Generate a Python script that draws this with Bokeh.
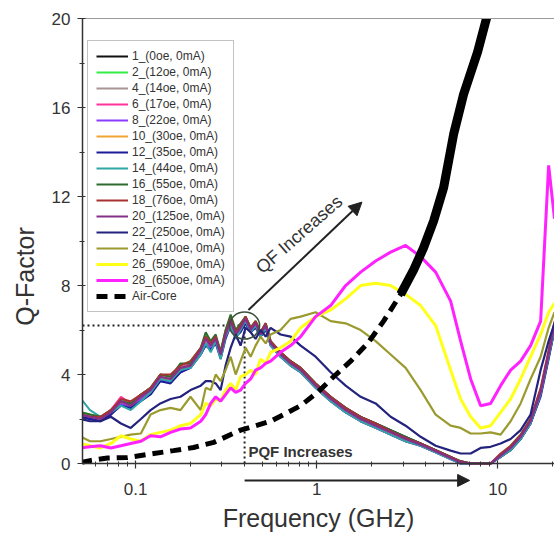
from bokeh.plotting import figure
from bokeh.models import (Range1d, FixedTicker, SingleIntervalTicker, LogAxis, Legend,
                          LegendItem, Label, Arrow, NormalHead)
from bokeh.embed import file_html
from bokeh.resources import INLINE

# ---------------- data ----------------
FREQ = [0.050, 0.056, 0.064, 0.073, 0.083, 0.094, 0.107, 0.121, 0.137, 0.156, 0.177, 0.201,
        0.229, 0.244, 0.260, 0.277, 0.295, 0.314, 0.335, 0.357, 0.380, 0.405, 0.432, 0.460,
        0.490, 0.523, 0.557, 0.632, 0.718, 0.816, 0.987, 1.195, 1.446, 1.750, 2.118, 2.563,
        3.101, 3.753, 4.543, 5.497, 6.244, 7.090, 8.051, 9.141, 10.38, 11.79, 13.39, 15.20,
        17.27, 19.12, 20.6]

Q_1 = [2.1, 2.0, 2.0, 2.2, 2.7, 2.5, 2.9, 3.3, 3.8, 3.7, 4.2, 4.5, 5.0, 5.5, 5.2, 5.7, 5.0, 5.9, 6.3, 5.9,
       6.0, 6.4, 6.1, 6.2, 5.9, 6.1, 5.3, 4.8, 4.4, 4.1, 3.4, 2.8, 2.3, 1.9, 1.6, 1.3, 1.0, 0.8, 0.5, 0.2,
       0.0, 0.0, 0.0, 0.0, 0.3, 0.6, 1.1, 1.8, 3.1, 4.8, 6.0]
Q_2 = [2.3, 2.2, 2.1, 2.4, 2.9, 2.7, 3.1, 3.4, 4.0, 3.9, 4.4, 4.6, 5.2, 5.8, 5.4, 5.7, 5.1, 6.0, 6.6, 6.0,
       6.2, 6.6, 6.1, 6.4, 5.9, 6.3, 5.5, 5.0, 4.6, 4.3, 3.6, 3.0, 2.5, 2.1, 1.8, 1.5, 1.2, 0.9, 0.6, 0.3,
       0.1, 0.0, 0.0, 0.0, 0.4, 0.8, 1.3, 2.0, 3.3, 5.0, 6.3]
Q_4 = [2.2, 2.1, 2.1, 2.3, 2.7, 2.6, 3.0, 3.2, 3.8, 3.8, 4.2, 4.4, 5.0, 5.5, 5.3, 5.5, 4.9, 5.7, 6.3, 5.8,
       6.1, 6.4, 6.0, 6.2, 5.8, 6.2, 5.4, 4.9, 4.5, 4.2, 3.5, 2.9, 2.4, 2.0, 1.7, 1.4, 1.1, 0.85, 0.55, 0.25,
       0.05, 0.0, 0.0, 0.0, 0.35, 0.7, 1.2, 1.9, 3.2, 4.9, 6.2]
Q_6 = [2.2, 2.1, 2.0, 2.4, 3.0, 2.7, 3.1, 3.3, 3.9, 3.8, 4.3, 4.5, 5.1, 5.6, 5.3, 5.6, 4.9, 5.8, 6.5, 5.9,
       6.1, 6.6, 6.0, 6.3, 5.8, 6.2, 5.4, 4.9, 4.5, 4.2, 3.5, 2.9, 2.4, 2.0, 1.7, 1.4, 1.1, 0.85, 0.55, 0.25,
       0.05, 0.0, 0.0, 0.0, 0.35, 0.7, 1.2, 1.9, 3.2, 4.9, 6.2]
Q_8 = [2.1, 2.0, 1.9, 2.2, 2.7, 2.5, 2.9, 3.2, 3.7, 3.7, 4.1, 4.3, 4.9, 5.4, 5.2, 5.5, 4.8, 5.7, 6.2, 5.7,
       6.0, 6.3, 5.9, 6.2, 5.7, 6.1, 5.3, 4.8, 4.4, 4.1, 3.4, 2.8, 2.3, 1.9, 1.6, 1.3, 1.0, 0.8, 0.5, 0.2,
       0.0, 0.0, 0.0, 0.0, 0.3, 0.65, 1.1, 1.8, 3.1, 4.8, 6.1]
Q_10 = [2.2, 2.1, 2.0, 2.3, 2.8, 2.6, 3.0, 3.3, 3.9, 3.8, 4.3, 4.4, 5.1, 5.6, 5.3, 5.6, 4.9, 5.8, 6.4, 5.8,
        6.1, 6.5, 6.0, 6.3, 5.8, 6.2, 5.4, 4.9, 4.5, 4.2, 3.5, 2.9, 2.4, 2.0, 1.7, 1.4, 1.1, 0.85, 0.55, 0.25,
        0.05, 0.0, 0.0, 0.0, 0.35, 0.7, 1.2, 1.9, 3.2, 4.9, 6.2]
Q_12 = [2.1, 2.0, 1.9, 2.2, 2.6, 2.5, 2.8, 3.1, 3.7, 3.6, 4.1, 4.3, 4.9, 5.3, 5.1, 5.4, 4.7, 5.6, 6.2, 5.7,
        5.9, 6.3, 5.9, 6.1, 5.7, 6.0, 5.4, 5.0, 4.6, 4.3, 3.6, 3.0, 2.5, 2.1, 1.8, 1.5, 1.2, 0.9, 0.6, 0.3,
        0.1, 0.0, 0.0, 0.0, 0.3, 0.6, 1.1, 1.8, 3.0, 4.7, 6.0]
Q_14 = [2.9, 2.4, 2.1, 2.3, 2.6, 2.4, 2.8, 3.2, 3.8, 3.7, 4.2, 4.3, 4.9, 5.4, 5.0, 5.5, 4.7, 5.7, 6.2, 5.6,
        6.0, 6.4, 5.9, 6.2, 5.7, 6.1, 5.3, 4.8, 4.4, 4.1, 3.4, 2.8, 2.3, 1.9, 1.6, 1.3, 1.0, 0.8, 0.5, 0.2,
        0.0, 0.0, 0.0, 0.0, 0.3, 0.6, 1.1, 1.8, 3.1, 4.8, 6.0]
Q_16 = [2.3, 2.2, 2.1, 2.4, 2.8, 2.7, 3.1, 3.4, 4.0, 3.9, 4.5, 4.5, 5.2, 5.9, 5.5, 5.8, 5.0, 6.0, 6.7, 6.0,
        6.3, 6.6, 6.1, 6.4, 5.9, 6.3, 5.5, 5.0, 4.6, 4.3, 3.6, 3.0, 2.5, 2.1, 1.8, 1.5, 1.2, 0.9, 0.6, 0.3,
        0.1, 0.0, 0.0, 0.0, 0.4, 0.75, 1.25, 2.0, 3.3, 5.0, 6.3]
Q_18 = [2.2, 2.1, 2.1, 2.4, 2.9, 2.8, 3.1, 3.4, 4.0, 4.0, 4.4, 4.6, 5.2, 5.7, 5.4, 5.7, 5.0, 5.9, 6.5, 5.9,
        6.2, 6.6, 6.1, 6.4, 5.9, 6.3, 5.5, 5.0, 4.6, 4.3, 3.6, 3.0, 2.5, 2.1, 1.8, 1.45, 1.15, 0.9, 0.6, 0.3,
        0.1, 0.0, 0.0, 0.0, 0.45, 0.8, 1.3, 2.0, 3.4, 5.1, 6.4]
Q_20 = [2.2, 2.1, 2.0, 2.3, 2.8, 2.6, 3.0, 3.3, 3.9, 3.8, 4.3, 4.4, 5.1, 5.6, 5.3, 5.6, 4.9, 5.8, 6.4, 5.8,
        6.1, 6.5, 6.0, 6.3, 5.8, 6.2, 5.4, 4.9, 4.5, 4.2, 3.5, 2.9, 2.4, 2.0, 1.7, 1.4, 1.1, 0.85, 0.55, 0.25,
        0.05, 0.0, 0.0, 0.0, 0.35, 0.7, 1.2, 1.9, 3.2, 4.9, 6.2]
Q_22 = [2.0, 1.9, 1.9, 2.1, 1.8, 1.6, 2.0, 2.4, 2.7, 2.9, 3.0, 3.3, 3.5, 3.7, 3.7, 3.6, 3.3, 4.4, 5.2, 5.8,
        5.3, 6.1, 5.9, 5.6, 6.0, 5.7, 6.1, 5.8, 5.7, 5.3, 4.8, 4.1, 3.5, 3.0, 2.7, 2.1, 1.7, 1.2, 0.8, 0.58,
        0.45, 0.45, 0.7, 0.75, 0.9, 1.1, 1.5, 2.2, 4.2, 5.5, 6.3]
Q_24 = [1.2, 1.0, 1.0, 1.1, 1.2, 1.3, 1.35, 2.2, 2.4, 2.5, 2.4, 3.0, 2.4, 3.4, 3.3, 4.0, 3.7, 4.2, 4.8, 4.0,
        4.6, 5.2, 4.8, 5.3, 5.7, 5.4, 5.8, 6.0, 6.5, 6.6, 6.8, 6.4, 6.3, 6.0, 5.5, 4.9, 4.3, 3.3, 2.2, 1.7,
        1.6, 1.35, 1.35, 1.4, 1.3, 1.9, 2.7, 3.8, 4.8, 6.1, 6.8]
Q_26 = [0.9, 0.8, 0.7, 0.9, 1.25, 1.1, 1.0, 1.3, 1.4, 1.5, 1.7, 1.8, 2.2, 2.7, 2.6, 2.9, 2.8, 3.3, 3.6, 3.3,
        3.9, 4.0, 4.2, 4.0, 4.7, 4.5, 5.0, 5.2, 5.5, 6.1, 6.6, 6.9, 7.4, 8.0, 8.1, 8.0, 7.6, 7.1, 6.2, 4.2,
        2.9, 2.1, 1.6, 1.7, 2.3, 2.9, 3.8, 4.8, 5.8, 6.8, 7.2]
Q_28 = [0.7, 0.75, 0.8, 0.7, 0.8, 0.9, 1.0, 1.25, 1.2, 1.4, 1.55, 1.6, 1.9, 2.2, 2.7, 3.0, 2.8, 3.1, 3.4, 3.2,
        3.3, 3.6, 3.8, 4.2, 4.3, 4.5, 4.6, 5.0, 5.3, 5.7, 6.6, 7.1, 8.0, 8.6, 9.1, 9.5, 9.8, 9.3, 8.6, 7.3,
        5.5, 3.8, 2.6, 2.7, 3.5, 4.2, 4.6, 5.3, 6.4, 13.4, 11.0]

AIR_F = [0.050, 0.056, 0.070, 0.090, 0.126, 0.162, 0.209, 0.270, 0.380, 0.557, 0.657, 0.816, 1.013,
         1.241, 1.541, 1.913, 2.344, 2.910, 3.434, 3.898, 4.427, 5.028, 5.711, 6.485, 7.749, 8.801]
AIR_Q = [0.05, 0.13, 0.25, 0.27, 0.45, 0.58, 0.72, 0.95, 1.5, 1.9, 2.2, 2.6, 3.2, 3.9, 4.6, 5.4, 6.4,
         7.6, 8.7, 9.7, 10.9, 12.4, 14.8, 16.6, 18.5, 20.2]

SERIES = [Q_1, Q_2, Q_4, Q_6, Q_8, Q_10, Q_12, Q_14, Q_16, Q_18, Q_20, Q_22, Q_24, Q_26, Q_28]
LABELS = ["1_(0oe, 0mA)", "2_(12oe, 0mA)", "4_(14oe, 0mA)", "6_(17oe, 0mA)", "8_(22oe, 0mA)",
          "10_(30oe, 0mA)", "12_(35oe, 0mA)", "14_(44oe, 0mA)", "16_(55oe, 0mA)", "18_(76oe, 0mA)",
          "20_(125oe, 0mA)", "22_(250oe, 0mA)", "24_(410oe, 0mA)", "26_(590oe, 0mA)", "28_(650oe, 0mA)"]
AIR_LABEL = "Air-Core"
COLORS = ["#111111", "#33ee44", "#a89494", "#ff3399", "#8a3cff", "#f2a335", "#1c1c9a", "#2fa6a6",
          "#2f6a2f", "#a83232", "#84308a", "#23237e", "#9a9a2e", "#ffff1a", "#ff22ff"]
WIDTHS = [2, 2, 2, 2, 2, 2, 2, 2, 2, 2, 2.2, 2.2, 2.2, 3, 3]

X_TICKS = [0.1, 1, 10]
X_TICK_LABELS = ["0.1", "1", "10"]
X_MINOR = [0.06, 0.07, 0.08, 0.09, 0.2, 0.3, 0.4, 0.5, 0.6, 0.7, 0.8, 0.9,
           2, 3, 4, 5, 6, 7, 8, 9, 20]
Y_MAX = 20

# annotation anchors (data units)
MARK_F, MARK_Q = 0.40, 6.2
QF_START, QF_END = (0.42, 6.9), (1.78, 11.75)
QF_TEXT_POS = (0.80, 10.3)
PQF_START, PQF_END, PQF_Y = 0.40, 7.0, -0.76
PQF_TEXT_POS = (0.42, 0.55)

FONT = "Liberation Sans"

# frame spans the full lower area; the x axis is pinned at Q = 0
p = figure(width=554, height=534, x_axis_type="log",
           x_range=Range1d(0.0509, 20.6), y_range=Range1d(-3.19, Y_MAX),
           output_backend="svg", toolbar_location=None,
           min_border_left=82, min_border_right=0, min_border_top=18, min_border_bottom=0)
p.outline_line_color = None
p.xgrid.grid_line_color = None
p.ygrid.grid_line_color = None
p.background_fill_color = "white"

# axes
p.xaxis.fixed_location = 0
p.xaxis.ticker = FixedTicker(ticks=X_TICKS, minor_ticks=X_MINOR)
p.xaxis.major_label_overrides = dict(zip(X_TICKS, X_TICK_LABELS))
p.yaxis.ticker = SingleIntervalTicker(interval=4, num_minor_ticks=2)
p.yaxis.bounds = (0, Y_MAX)
for ax in (p.xaxis, p.yaxis):
    ax.axis_line_color = "#333333"
    ax.axis_line_width = 1.5
    ax.major_tick_line_color = "#333333"
    ax.minor_tick_line_color = "#333333"
    ax.major_tick_line_width = 1.2
    ax.major_tick_out = 5
    ax.major_tick_in = 3
    ax.minor_tick_out = 3
    ax.minor_tick_in = 2
    ax.major_label_text_font = FONT
    ax.major_label_text_font_size = "17px"
    ax.major_label_text_color = "#333333"
    ax.axis_label_text_font = FONT
    ax.axis_label_text_font_size = "25px"
    ax.axis_label_text_font_style = "normal"
    ax.axis_label_text_color = "#333333"
p.xaxis.axis_label = "Frequency (GHz)"
p.yaxis.axis_label = "Q-Factor"
p.xaxis.major_label_standoff = 14
p.xaxis.axis_label_standoff = 6
p.yaxis.major_label_standoff = 7
p.yaxis.axis_label_standoff = 10

top = LogAxis(ticker=FixedTicker(ticks=[]), axis_line_color="#999999", axis_line_width=1.2,
              major_tick_out=0, minor_tick_out=0, major_label_text_font_size="0px")
p.add_layout(top, "above")

# dotted guide lines
p.line([0.0509, MARK_F], [MARK_Q, MARK_Q], line_color="#222222", line_width=2, line_dash="2 3")
p.line([MARK_F, MARK_F], [0, MARK_Q], line_color="#222222", line_width=2, line_dash="2 3")

# curves
items = []
for q, lab, col, w in zip(SERIES, LABELS, COLORS, WIDTHS):
    r = p.line(FREQ, q, line_color=col, line_width=w)
    items.append(LegendItem(label=lab, renderers=[r]))

r_air = p.line(AIR_F, AIR_Q, line_color="black", line_width=5, line_dash="11 7")
p.line(AIR_F[17:], AIR_Q[17:], line_color="black", line_width=9)
items.append(LegendItem(label=AIR_LABEL, renderers=[r_air]))

p.ellipse(x=[MARK_F], y=[MARK_Q], width=30, height=27, width_units="screen", height_units="screen",
          fill_color=None, line_color="#3c4f3c", line_width=1.6)

legend = Legend(items=items, location=(5, 222), padding=8, spacing=2,
                glyph_width=32, glyph_height=14, label_height=14, label_standoff=4,
                label_text_font=FONT, label_text_font_size="12px", label_text_color="#333333",
                border_line_color="#888888", border_line_width=1,
                background_fill_color="white", background_fill_alpha=1.0)
p.add_layout(legend, "center")

# arrows and texts
p.add_layout(Arrow(end=NormalHead(size=13, fill_color="#222222", line_color="#222222"),
                   x_start=QF_START[0], y_start=QF_START[1], x_end=QF_END[0], y_end=QF_END[1],
                   line_color="#222222", line_width=2))
p.add_layout(Label(x=QF_TEXT_POS[0], y=QF_TEXT_POS[1], text="QF Increases", angle=0.72,
                   text_align="center", text_baseline="middle", text_font=FONT,
                   text_font_size="18px", text_color="#333333"))
p.add_layout(Arrow(end=NormalHead(size=12, fill_color="#222222", line_color="#222222"),
                   x_start=PQF_START, y_start=PQF_Y, x_end=PQF_END, y_end=PQF_Y,
                   line_color="#222222", line_width=2))
p.add_layout(Label(x=PQF_TEXT_POS[0], y=PQF_TEXT_POS[1], text="PQF Increases",
                   text_align="left", text_baseline="middle", text_font=FONT,
                   text_font_size="15px", text_font_style="bold", text_color="#333333"))

open("out.html", "w").write(file_html(p, INLINE))
